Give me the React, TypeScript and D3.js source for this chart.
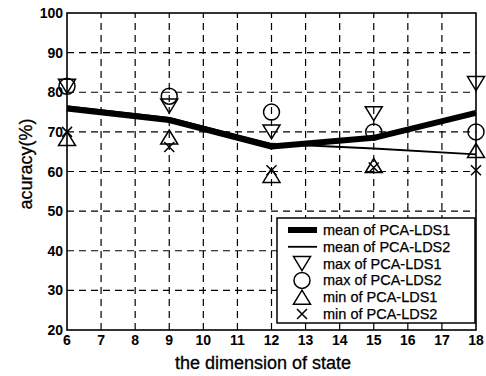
import React from 'react';
import * as d3 from 'd3';

// values
const dims = [6, 9, 12, 15, 18];
const meanLds1 = [75.9, 73.0, 66.3, 68.5, 74.8];
const meanLds2 = [76.5, 73.5, 67.0, 65.8, 64.3];
const maxLds1 = [81.5, 76.5, 70.0, 74.6, 82.2];
const maxLds2 = [81.5, 79.0, 75.0, 70.0, 70.0];
const minLds1 = [68.3, 68.7, 59.0, 61.5, 65.3];
const minLds2 = [70.0, 66.2, 60.3, 61.0, 60.3];

const xTicks = d3.range(6, 19);
const yTicks = d3.range(20, 101, 10);

const legendLabels = [
  'mean of PCA-LDS1',
  'mean of PCA-LDS2',
  'max of PCA-LDS1',
  'max of PCA-LDS2',
  'min of PCA-LDS1',
  'min of PCA-LDS2',
];

const font = '"Liberation Sans", Arial, Helvetica, sans-serif';

const Marker = ({ kind, x, y }: { kind: string; x: number; y: number }) => {
  const w = 8.5;
  const h = 7;
  const common = { fill: 'none', stroke: '#000', strokeWidth: 1.5 };
  if (kind === 'down') {
    return <path d={`M${x - w},${y - h}L${x + w},${y - h}L${x},${y + h}Z`} {...common} />;
  }
  if (kind === 'up') {
    return <path d={`M${x - w},${y + h}L${x + w},${y + h}L${x},${y - h}Z`} {...common} />;
  }
  if (kind === 'circle') {
    return <circle cx={x} cy={y} r={8} {...common} />;
  }
  const s = 5;
  return <path d={`M${x - s},${y - s}L${x + s},${y + s}M${x - s},${y + s}L${x + s},${y - s}`} {...common} />;
};

export default function App() {
  const width = 486;
  const height = 376;
  const margin = { top: 13, right: 10, bottom: 46, left: 67 };

  const xScale = d3.scaleLinear().domain([6, 18]).range([margin.left, width - margin.right]);
  const yScale = d3.scaleLinear().domain([20, 100]).range([height - margin.bottom, margin.top]);

  const line = d3.line<number>()
    .x((_, i) => xScale(dims[i]))
    .y(d => yScale(d));

  const markerSeries = [
    { kind: 'down', values: maxLds1 },
    { kind: 'circle', values: maxLds2 },
    { kind: 'up', values: minLds1 },
    { kind: 'x', values: minLds2 },
  ];

  const [x0, x1] = xScale.range();
  const [y0, y1] = yScale.range();

  // legend box
  const lg = { x: 277, y: 218, w: 198, h: 105 };
  const rowH = 16.8;
  const legendKinds = ['thick', 'thin', 'down', 'circle', 'up', 'x'];

  return (
    <svg width={width} height={height} style={{ position: 'absolute', left: 0, top: 0, background: '#fff' }}>
      {/* grid */}
      {xTicks.slice(1, -1).map(t => (
        <line key={'gx' + t} x1={xScale(t)} x2={xScale(t)} y1={y0} y2={y1}
          stroke="#000" strokeWidth={1.2} strokeDasharray="7,5" />
      ))}
      {yTicks.slice(1, -1).map(t => (
        <line key={'gy' + t} x1={x0} x2={x1} y1={yScale(t)} y2={yScale(t)}
          stroke="#000" strokeWidth={1.2} strokeDasharray="7,5" />
      ))}

      {/* axes box */}
      <rect x={x0} y={y1} width={x1 - x0} height={y0 - y1} fill="none" stroke="#000" strokeWidth={1.6} />

      {/* tick labels */}
      {xTicks.map(t => (
        <text key={'tx' + t} x={xScale(t)} y={y0 + 15} textAnchor="middle"
          fontFamily={font} fontWeight="bold" fontSize={14}>{t}</text>
      ))}
      {yTicks.map(t => (
        <text key={'ty' + t} x={x0 - 4} y={yScale(t) + 5} textAnchor="end"
          fontFamily={font} fontWeight="bold" fontSize={14}>{t}</text>
      ))}

      {/* axis labels */}
      <text x={263} y={369} textAnchor="middle" fontFamily={font} fontSize={18}
        stroke="#000" strokeWidth={0.3}>the dimension of state</text>
      <text transform={`translate(32,164) rotate(-90)`} textAnchor="middle" fontFamily={font} fontSize={18}
        stroke="#000" strokeWidth={0.3}>acuracy(%)</text>

      {/* mean lines */}
      <path d={line(meanLds1) || ''} fill="none" stroke="#000" strokeWidth={6} strokeLinejoin="round" />
      <path d={line(meanLds2) || ''} fill="none" stroke="#000" strokeWidth={1.8} />

      {/* markers */}
      {markerSeries.map(s => s.values.map((v, i) => (
        <Marker key={s.kind + i} kind={s.kind} x={xScale(dims[i])} y={yScale(v)} />
      )))}

      {/* legend */}
      <g>
        <rect x={lg.x} y={lg.y} width={lg.w} height={lg.h} fill="#fff" stroke="#000" strokeWidth={1.5} />
        {legendLabels.map((label, i) => {
          const cy = lg.y + 12 + i * rowH;
          const kind = legendKinds[i];
          return (
            <g key={label}>
              {kind === 'thick' && <line x1={288} x2={317} y1={cy} y2={cy} stroke="#000" strokeWidth={6} />}
              {kind === 'thin' && <line x1={288} x2={317} y1={cy} y2={cy} stroke="#000" strokeWidth={1.8} />}
              {kind !== 'thick' && kind !== 'thin' && <Marker kind={kind} x={302} y={cy} />}
              <text x={323} y={cy + 5} fontFamily={font} fontSize={14.5}
                stroke="#000" strokeWidth={0.25}>{label}</text>
            </g>
          );
        })}
      </g>
    </svg>
  );
}
